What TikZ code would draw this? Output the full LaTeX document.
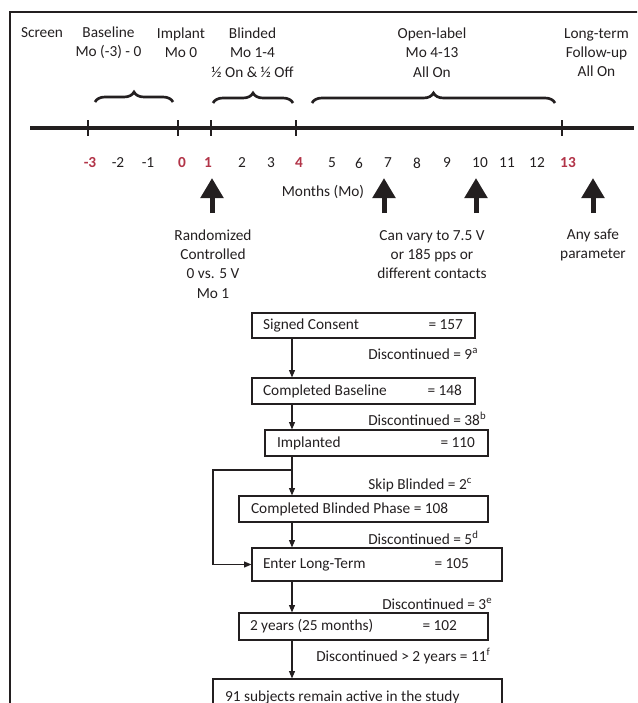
\documentclass[tikz,border=0pt]{standalone}
\usepackage{fontspec}
\setmainfont{Carlito}
\usetikzlibrary{arrows.meta, positioning, decorations.pathreplacing}

\definecolor{ink}{RGB}{35,31,32}
\definecolor{monthred}{RGB}{178,52,72}

\tikzset{
  txt/.style={font=\fontsize{11.5}{14.5}\selectfont, text=ink, inner sep=0pt, align=center},
  note/.style={txt, anchor=west},
  flowbox/.style={txt, draw=ink, line width=0.9pt},
  flowarrow/.style={draw=ink, line width=0.8pt, -{Triangle[length=5.5pt,width=4.5pt]}},
  bigarrow/.style={draw=ink, line width=3.75pt, -{Triangle[length=15pt,width=16.5pt]}},
  phasebrace/.style={draw=ink, line width=2pt, decorate, decoration={brace, amplitude=7.5pt}},
}

\begin{document}
\begin{tikzpicture}[x=0.75pt, y=-0.75pt]
    \useasboundingbox (0,0) rectangle (637,703);
    \clip (0,0) rectangle (637,703);
    % frame
    \draw[ink, line width=1.6pt] (10,710) -- (10,12) -- (640,12);

    % phases
    \node[txt] (screen) at (42,33) {Screen};
    \node[txt] (baseph) at (108.5,43) {Baseline\\Mo (-3) - 0};
    \node[txt] (implph) at (181,43) {Implant\\Mo 0};
    \node[txt] (blindph) at (252.5,52.5) {Blinded\\Mo 1-4\\½ On \& ½ Off};
    \node[txt] (openph) at (432,52.5) {Open-label\\Mo 4-13\\All On};
    \node[txt] (longph) at (596.5,52.5) {Long-term\\Follow-up\\All On};
    \draw[phasebrace] (95,102) -- (173,102);
    \draw[phasebrace] (213,103) -- (293,103);
    \draw[phasebrace] (312,103) -- (555,103);

    % time line
    \draw[ink, line width=3pt] (30,128) -- (634,128);
    \foreach \x in {88,178,211,296,562}
      \draw[ink, line width=1.6pt] (\x,120) -- (\x,136);
    \foreach \m/\x in {-2/118,-1/148,2/242,3/271,5/332,6/359,7/388,8/417,9/447,10/480,11/507,12/537}
      \node[txt] (mo\m) at (\x,163) {\m};
    \foreach \m/\x in {-3/90,0/182,1/208,4/299,13/568}
      \node[txt, text=monthred, font=\fontsize{11.5}{14.5}\selectfont\bfseries] (mo\m) at (\x,163) {\m};
    \node[txt] (months) at (323,192) {Months (Mo)};

    % stimulation notes
    \coordinate (up1) at (212,213);
    \coordinate (up2) at (384,213);
    \coordinate (up3) at (476,213);
    \coordinate (up4) at (593,213);
    \foreach \a in {up1,up2,up3,up4}
      \draw[bigarrow] (\a) -- ++(0,-35);
    \node[txt] (rand) at (213,264) {Randomized\\Controlled\\0 vs. 5 V\\Mo 1};
    \node[txt] (vary) at (432,254.5) {Can vary to 7.5 V\\or 185 pps or\\different contacts};
    \node[txt] (safe) at (593,245) {Any safe\\parameter};

    % flow of subjects
    \node[flowbox, minimum height=18.75pt] (consent) at (363.5,325.5)
      {\makebox[167.25pt][l]{\hspace{8.25pt}Signed Consent\hfill= 157\hspace{9pt}}};
    \node[flowbox, minimum height=19.5pt] (baseline) at (363.5,391)
      {\makebox[167.25pt][l]{\hspace{8.25pt}Completed Baseline\hfill= 148\hspace{9.75pt}}};
    \node[flowbox, minimum height=19.5pt] (implant) at (376.5,443)
      {\makebox[167.25pt][l]{\hspace{9pt}Implanted\hfill= 110\hspace{9.75pt}}};
    \node[flowbox, minimum height=19.5pt] (blinded) at (363.5,509)
      {\makebox[186.75pt][l]{\hspace{9pt}Completed Blinded Phase = 108}};
    \node[flowbox, minimum height=24.75pt] (enter) at (377,564.5)
      {\makebox[187.5pt][l]{\hspace{8.25pt}Enter Long-Term\hfill= 105\hspace{24.75pt}}};
    \node[flowbox, minimum height=20.25pt] (twoyear) at (363.5,626.5)
      {\makebox[186.75pt][l]{\hspace{8.25pt}2 years (25 months)\hfill= 102\hspace{23.25pt}}};
    \node[flowbox, minimum height=27pt] (active) at (357.5,697)
      {\makebox[216.75pt][l]{\hspace{9pt}91 subjects remain active in the study}};

    \coordinate (spine) at (292,0);
    \draw[flowarrow] (consent.south -| spine) -- (baseline.north -| spine);
    \draw[flowarrow] (baseline.south -| spine) -- (implant.north -| spine);
    \draw[flowarrow] (implant.south -| spine) -- (blinded.north -| spine);
    \draw[flowarrow] (blinded.south -| spine) -- (enter.north -| spine);
    \draw[flowarrow] (enter.south -| spine) -- (twoyear.north -| spine);
    \draw[flowarrow] (twoyear.south -| spine) -- (active.north -| spine);
    \coordinate (split) at (292,470);
    \coordinate (bypass) at (213,470);
    \draw[flowarrow] (split) -- (bypass) |- (enter.west);

    \node[note] (drop1) at (368,354) {Discontinued = 9\textsuperscript{a}};
    \node[note] (drop2) at (368,419) {Discontinued = 38\textsuperscript{b}};
    \node[note] (skip) at (368,485) {Skip Blinded = 2\textsuperscript{c}};
    \node[note] (drop3) at (368,538) {Discontinued = 5\textsuperscript{d}};
    \node[note] (drop4) at (382,604) {Discontinued = 3\textsuperscript{e}};
    \node[note] (drop5) at (316,656) {Discontinued > 2 years = 11\textsuperscript{f}};
  \end{tikzpicture}
\end{document}
